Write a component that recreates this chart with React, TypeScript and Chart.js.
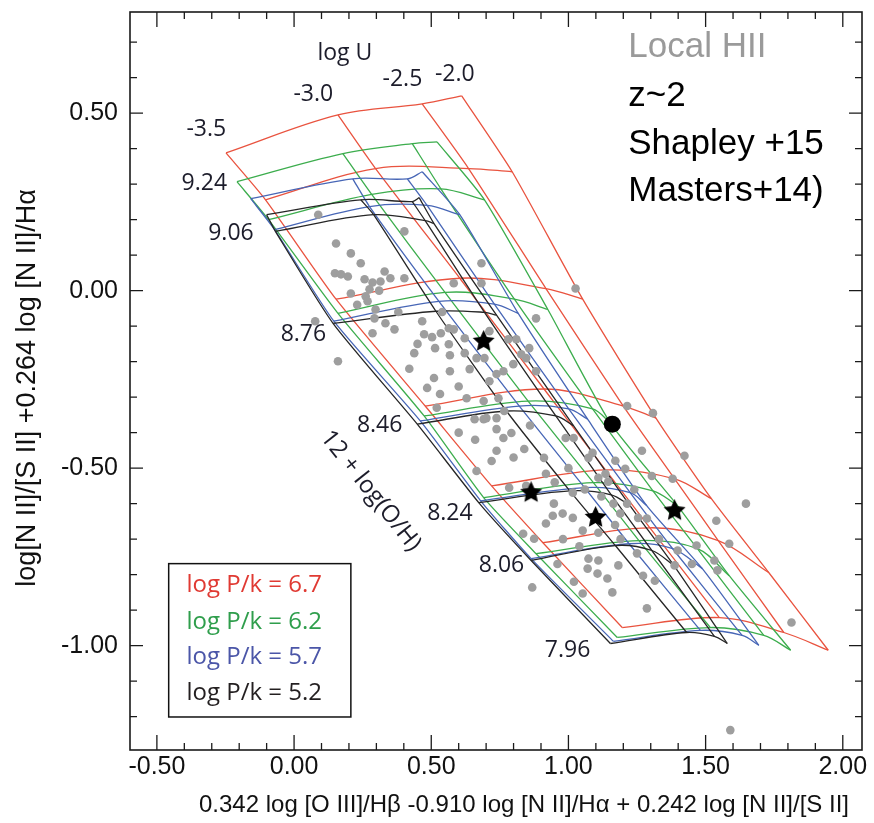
import React, { useEffect, useRef } from 'react';
import { Chart, registerables } from 'chart.js';
Chart.register(...registerables);

// ---------- axes ----------
const X_MIN = -0.598, X_MAX = 2.07, Y_MIN = -1.294, Y_MAX = 0.785;
const xTickValues = [-0.5, 0, 0.5, 1.0, 1.5, 2.0];
const yTickValues = [-1.0, -0.5, 0, 0.5];
const xTitle = '0.342 log [O III]/H\u03b2 -0.910 log [N II]/H\u03b1 + 0.242 log [N II]/[S II]';
const yTitle = 'log[N II]/[S II] +0.264 log [N II]/H\u03b1';

// ---------- model grids (rows: 12+log(O/H), cols: log U) ----------
const metallicities = ['9.24', '9.06', '8.76', '8.46', '8.24', '8.06', '7.96'];
const logU = ['-3.5', '-3.0', '-2.5', '-2.0'];
const pressures = ['6.7', '6.2', '5.7', '5.2'];
const lineColors = ['#e9533f', '#3cad4d', '#4766b6', '#262626'];
const legendColors = ['#e03a33', '#2f9e4c', '#4b56a8', '#231f20'];

const redX = [
  [-0.248, 0.160, 0.467, 0.611],
  [-0.104, 0.297, 0.636, 0.795],
  [0.153, 0.604, 0.918, 1.052],
  [0.478, 0.911, 1.200, 1.319],
  [0.720, 1.135, 1.387, 1.521],
  [0.907, 1.297, 1.546, 1.730],
  [1.196, 1.550, 1.785, 1.947],
];
const redY = [
  [0.388, 0.495, 0.526, 0.549],
  [0.256, 0.344, 0.344, 0.335],
  [-0.024, 0.035, 0.006, -0.024],
  [-0.325, -0.277, -0.325, -0.359],
  [-0.550, -0.505, -0.530, -0.586],
  [-0.710, -0.668, -0.704, -0.794],
  [-0.949, -0.921, -0.963, -1.013],
];
const greenX = [
  [-0.208, 0.178, 0.431, 0.521],
  [-0.093, 0.283, 0.535, 0.694],
  [0.160, 0.550, 0.803, 0.925],
  [0.474, 0.853, 1.088, 1.153],
  [0.691, 1.091, 1.308, 1.398],
  [0.882, 1.257, 1.470, 1.586],
  [1.178, 1.517, 1.712, 1.810],
];
const greenY = [
  [0.307, 0.386, 0.414, 0.419],
  [0.200, 0.271, 0.287, 0.256],
  [-0.064, -0.005, -0.024, -0.053],
  [-0.353, -0.311, -0.333, -0.373],
  [-0.583, -0.541, -0.564, -0.606],
  [-0.741, -0.704, -0.727, -0.803],
  [-0.977, -0.949, -0.971, -1.013],
];
const blueX = [
  [-0.158, 0.214, 0.413, 0.467],
  [-0.071, 0.275, 0.485, 0.604],
  [0.145, 0.528, 0.730, 0.817],
  [0.460, 0.821, 1.001, 1.070],
  [0.680, 1.059, 1.225, 1.286],
  [0.864, 1.221, 1.380, 1.488],
  [1.164, 1.481, 1.633, 1.694],
];
const blueY = [
  [0.259, 0.315, 0.315, 0.335],
  [0.172, 0.237, 0.240, 0.214],
  [-0.086, -0.030, -0.038, -0.064],
  [-0.367, -0.325, -0.333, -0.362],
  [-0.592, -0.555, -0.569, -0.606],
  [-0.755, -0.713, -0.727, -0.783],
  [-0.988, -0.957, -0.971, -0.999],
];
const blackX = [
  [-0.100, 0.243, 0.431, 0.456],
  [-0.068, 0.290, 0.478, 0.510],
  [0.142, 0.517, 0.694, 0.738],
  [0.449, 0.774, 0.954, 1.019],
  [0.673, 1.005, 1.156, 1.225],
  [0.864, 1.171, 1.304, 1.384],
  [1.153, 1.431, 1.532, 1.579],
];
const blackY = [
  [0.214, 0.256, 0.251, 0.262],
  [0.167, 0.214, 0.197, 0.189],
  [-0.092, -0.058, -0.061, -0.069],
  [-0.376, -0.339, -0.353, -0.381],
  [-0.597, -0.564, -0.575, -0.606],
  [-0.760, -0.718, -0.732, -0.774],
  [-0.994, -0.963, -0.974, -0.994],
];

// ---------- observations ----------
const localX = [
  0.088, 0.153, 0.207, 0.243, 0.149, 0.171, 0.196, 0.330, 0.257, 0.286, 0.315, 0.351, 0.402, 0.683,
  0.275, 0.261, 0.207, 0.268, 0.297, 0.293, 0.077, 0.160, 0.333, 0.366, 0.286, 0.467, 0.474, 0.503,
  0.535, 0.564, 0.438, 0.514, 0.564, 0.568, 0.622, 0.665, 0.485, 0.532, 0.568, 0.640, 0.712, 0.763,
  0.658, 0.738, 0.763, 0.738, 0.629, 0.691, 0.402, 0.582, 0.622, 0.694, 0.510, 0.683, 0.582, 0.738,
  0.799, 0.857, 0.846, 0.810, 0.712, 0.766, 0.701, 0.882, 0.882, 1.026, 0.781, 0.828, 0.745, 0.738,
  0.792, 0.839, 0.911, 1.019, 1.073, 1.268, 1.214, 1.308, 1.423, 1.304, 0.691, 0.990, 1.088, 0.918,
  1.135, 1.109, 1.145, 1.207, 1.380, 1.016, 0.846, 0.665, 0.784, 0.947, 0.979, 0.943, 1.016, 0.918,
  1.052, 1.109, 1.164, 1.189, 1.214, 1.254, 1.286, 0.835, 0.875, 1.073, 1.109, 1.070, 1.106, 1.142,
  1.182, 1.272, 1.315, 1.387, 1.398, 1.467, 1.539, 1.532, 1.543, 1.586, 1.286, 1.052, 0.868, 1.647,
  1.813, 1.590, 1.171,
  0.230, 0.310, 0.380, 0.450, 0.540, 0.600, 0.520, 0.420, 0.600, 0.660, 0.720, 0.800, 0.860, 0.950,
  1.000, 1.060, 1.120, 1.170, 1.240, 0.980, 1.040, 1.190, 1.250, 1.330, 1.450, 0.960, 1.020, 1.160,
];
const localY = [
  0.214, 0.133, 0.105, 0.077, 0.049, 0.046, 0.040, 0.054, 0.032, 0.023, 0.026, 0.035, 0.167, 0.077,
  0.004, -0.016, -0.008, -0.030, -0.053, -0.078, -0.086, -0.199, -0.092, -0.109, -0.120, -0.086, -0.123, -0.131,
  -0.120, -0.106, -0.176, -0.162, -0.151, -0.182, -0.176, -0.190, -0.274, -0.291, -0.227, -0.221, -0.255, -0.227,
  -0.362, -0.359, -0.415, -0.451, -0.303, -0.311, 0.035, -0.109, -0.134, -0.190, -0.246, 0.021, 0.021, -0.235,
  -0.207, -0.162, -0.190, -0.137, -0.114, -0.339, -0.359, -0.227, -0.078, 0.006, -0.137, -0.179, -0.303, -0.390,
  -0.401, -0.446, -0.471, -0.415, -0.471, -0.451, -0.325, -0.345, -0.465, -0.522, -0.362, -0.415, -0.457, -0.516,
  -0.516, -0.527, -0.538, -0.502, -0.530, -0.569, -0.550, -0.508, -0.555, -0.600, -0.628, -0.634, -0.640, -0.656,
  -0.676, -0.682, -0.600, -0.628, -0.600, -0.640, -0.642, -0.685, -0.699, -0.755, -0.760, -0.783, -0.797, -0.811,
  -0.774, -0.803, -0.817, -0.774, -0.732, -0.718, -0.648, -0.760, -0.788, -0.713, -0.895, -0.853, -0.836, -0.600,
  -0.935, -1.238, -0.479,
  -0.040, 0.000, -0.060, -0.150, -0.060, -0.270, -0.330, -0.220, -0.400, -0.420, -0.480, -0.470, -0.380, -0.540,
  -0.500, -0.560, -0.580, -0.660, -0.560, -0.700, -0.720, -0.700, -0.740, -0.700, -0.770, -0.770, -0.820, -0.850,
];
const shapleyX = [0.691, 0.864, 1.099, 1.387];
const shapleyY = [-0.143, -0.569, -0.639, -0.620];
const mastersX = [1.160];
const mastersY = [-0.376];

// ---------- annotation texts ----------
const gridLabelText = ['log U', '-3.5', '-3.0', '-2.5', '-2.0', '9.24', '9.06', '8.76', '8.46', '8.24', '8.06', '7.96'];
const gridLabelX = [0.185, -0.320, 0.070, 0.395, 0.586, -0.327, -0.230, 0.034, 0.312, 0.568, 0.756, 0.997];
const gridLabelY = [0.667, 0.453, 0.554, 0.596, 0.608, 0.301, 0.161, -0.123, -0.381, -0.628, -0.774, -1.013];
const ohLabel = '12 + log(O/H)';
const ohLabelPos = { x: 0.279, y: -0.564, angleDeg: 51.6 };
const sourceText = ['Local HII', 'z~2', 'Shapley +15', 'Masters+14)'];
const sourceColors = ['#9a9a9a', '#000', '#000', '#000'];
const sourceX = 1.218;
const sourceY = [0.686, 0.546, 0.411, 0.279];
const legendBox = { x0: -0.457, x1: 0.207, y0: -0.769, y1: -1.201 };
const legendTextX = -0.392;
const legendTextY = [-0.831, -0.934, -1.032, -1.133];

function makeStar(size: number) {
  const c = document.createElement('canvas');
  c.width = size; c.height = size;
  const g = c.getContext('2d')!;
  g.fillStyle = '#000';
  g.beginPath();
  for (let i = 0; i < 10; i++) {
    const r = i % 2 === 0 ? size / 2 : size * 0.24;
    const a = -Math.PI / 2 + (i * Math.PI) / 5;
    const px = size / 2 + r * Math.cos(a);
    const py = size / 2 + r * Math.sin(a);
    if (i === 0) g.moveTo(px, py); else g.lineTo(px, py);
  }
  g.closePath();
  g.fill();
  return c;
}

export default function App() {
  const ref = useRef<HTMLCanvasElement>(null);
  useEffect(() => {
    document.body.style.margin = '0';
    const grids = [
      { X: redX, Y: redY },
      { X: greenX, Y: greenY },
      { X: blueX, Y: blueY },
      { X: blackX, Y: blackY },
    ];
    const datasets: any[] = [];
    datasets.push({
      label: 'Shapley +15',
      data: shapleyX.map((x, i) => ({ x, y: shapleyY[i] })),
      pointStyle: makeStar(23),
      pointRadius: 11,
      showLine: false,
    });
    datasets.push({
      label: 'Masters+14',
      data: mastersX.map((x, i) => ({ x, y: mastersY[i] })),
      pointRadius: 8.5,
      backgroundColor: '#000',
      borderColor: '#000',
      borderWidth: 0,
      showLine: false,
    });
    datasets.push({
      label: 'Local HII',
      data: localX.map((x, i) => ({ x, y: localY[i] })),
      pointRadius: 4.3,
      backgroundColor: '#9e9e9e',
      borderWidth: 0,
      showLine: false,
    });
    for (let p = grids.length - 1; p >= 0; p--) {
      const g = grids[p];
      g.X.forEach((row, zi) => {
        datasets.push({
          label: 'P' + pressures[p] + ' Z' + metallicities[zi],
          data: row.map((x, ui) => ({ x, y: g.Y[zi][ui] })),
          showLine: true,
          borderColor: lineColors[p],
          borderWidth: 1.3,
          pointRadius: 0,
          tension: 0.35,
          fill: false,
        });
      });
      for (let ui = 0; ui < logU.length; ui++) {
        datasets.push({
          label: 'P' + pressures[p] + ' U' + logU[ui],
          data: g.X.map((row, zi) => ({ x: row[ui], y: g.Y[zi][ui] })),
          showLine: true,
          borderColor: lineColors[p],
          borderWidth: 1.3,
          pointRadius: 0,
          tension: 0.2,
          fill: false,
        });
      }
    }

    const decor = {
      id: 'decor',
      afterDraw(chart: any) {
        const { ctx, chartArea: a, scales } = chart;
        const xs = scales.x, ys = scales.y;
        const X = (v: number) => xs.getPixelForValue(v);
        const Y = (v: number) => ys.getPixelForValue(v);
        ctx.save();
        ctx.strokeStyle = '#1a1a1a';
        ctx.lineWidth = 1.6;
        ctx.strokeRect(a.left, a.top, a.right - a.left, a.bottom - a.top);
        ctx.lineWidth = 1.3;
        ctx.beginPath();
        for (let i = -6; i <= 21; i++) {
          const v = i / 10;
          if (v < X_MIN || v > X_MAX) continue;
          const px = X(v);
          const len = i % 5 === 0 ? 15 : 7;
          ctx.moveTo(px, a.bottom); ctx.lineTo(px, a.bottom - len);
          ctx.moveTo(px, a.top); ctx.lineTo(px, a.top + len);
        }
        for (let i = -13; i <= 8; i++) {
          const v = i / 10;
          if (v < Y_MIN || v > Y_MAX) continue;
          const py = Y(v);
          const len = i % 5 === 0 ? 13 : 7;
          ctx.moveTo(a.left, py); ctx.lineTo(a.left + len, py);
          ctx.moveTo(a.right, py); ctx.lineTo(a.right - len, py);
        }
        ctx.stroke();

        // axis titles
        ctx.fillStyle = '#111';
        ctx.textAlign = 'center';
        ctx.textBaseline = 'middle';
        ctx.font = '24px "Liberation Sans", Arial, sans-serif';
        ctx.fillText(xTitle, 524, 805);
        ctx.save();
        ctx.translate(28, 388);
        ctx.rotate(-Math.PI / 2);
        ctx.font = '27px "Liberation Sans", Arial, sans-serif';
        ctx.fillText(yTitle, 0, 0);
        ctx.restore();

        // grid labels
        ctx.font = '23px "Open Sans", "Noto Sans", sans-serif';
        ctx.fillStyle = '#1c1c2a';
        gridLabelText.forEach((t, i) => ctx.fillText(t, X(gridLabelX[i]), Y(gridLabelY[i])));
        ctx.save();
        ctx.translate(X(ohLabelPos.x), Y(ohLabelPos.y));
        ctx.rotate((ohLabelPos.angleDeg * Math.PI) / 180);
        ctx.font = '24px "Open Sans", "Noto Sans", sans-serif';
        ctx.fillText(ohLabel, 0, 0);
        ctx.restore();

        // source labels
        ctx.textAlign = 'left';
        ctx.font = '35px "Liberation Sans", Arial, sans-serif';
        sourceText.forEach((t, i) => {
          ctx.fillStyle = sourceColors[i];
          ctx.fillText(t, X(sourceX), Y(sourceY[i]));
        });

        // pressure legend
        const bx0 = X(legendBox.x0), bx1 = X(legendBox.x1), by0 = Y(legendBox.y0), by1 = Y(legendBox.y1);
        ctx.fillStyle = '#fff';
        ctx.fillRect(bx0, by0, bx1 - bx0, by1 - by0);
        ctx.strokeStyle = '#111';
        ctx.lineWidth = 1.5;
        ctx.strokeRect(bx0, by0, bx1 - bx0, by1 - by0);
        ctx.font = '24px "Open Sans", "Noto Sans", sans-serif';
        pressures.forEach((p, i) => {
          ctx.fillStyle = legendColors[i];
          ctx.fillText('log P/k = ' + p, X(legendTextX), Y(legendTextY[i]));
        });
        ctx.restore();
      },
    };

    const chart = new Chart(ref.current!, {
      type: 'scatter',
      data: { datasets },
      options: {
        responsive: false,
        animation: false,
        devicePixelRatio: 1,
        layout: { padding: { top: 10, right: 5, left: 0, bottom: 0 } },
        plugins: { legend: { display: false }, tooltip: { enabled: false } },
        scales: {
          x: {
            type: 'linear',
            min: X_MIN,
            max: X_MAX,
            afterBuildTicks: (s: any) => { s.ticks = xTickValues.map((v) => ({ value: v })); },
            afterFit: (s: any) => { s.height = 73; s.paddingLeft = 0; s.paddingRight = 0; },
            grid: { display: false, drawTicks: false },
            border: { display: false },
            ticks: {
              padding: 2,
              color: '#111',
              font: { family: '"Liberation Sans", Arial, sans-serif', size: 25 },
              callback: (v: any) => Number(v).toFixed(2),
              maxRotation: 0,
              autoSkip: false,
            },
          },
          y: {
            type: 'linear',
            min: Y_MIN,
            max: Y_MAX,
            afterBuildTicks: (s: any) => { s.ticks = yTickValues.map((v) => ({ value: v })); },
            afterFit: (s: any) => { s.width = 130; s.paddingTop = 0; s.paddingBottom = 0; },
            grid: { display: false, drawTicks: false },
            border: { display: false },
            ticks: {
              padding: 12,
              color: '#111',
              font: { family: '"Liberation Sans", Arial, sans-serif', size: 25 },
              callback: (v: any) => Number(v).toFixed(2),
              autoSkip: false,
            },
          },
        },
      },
      plugins: [decor],
    } as any);
    return () => chart.destroy();
  }, []);
  return (
    <div style={{ width: 874, height: 823, background: '#fff' }}>
      <canvas ref={ref} width={874} height={823} style={{ display: 'block' }} />
    </div>
  );
}
